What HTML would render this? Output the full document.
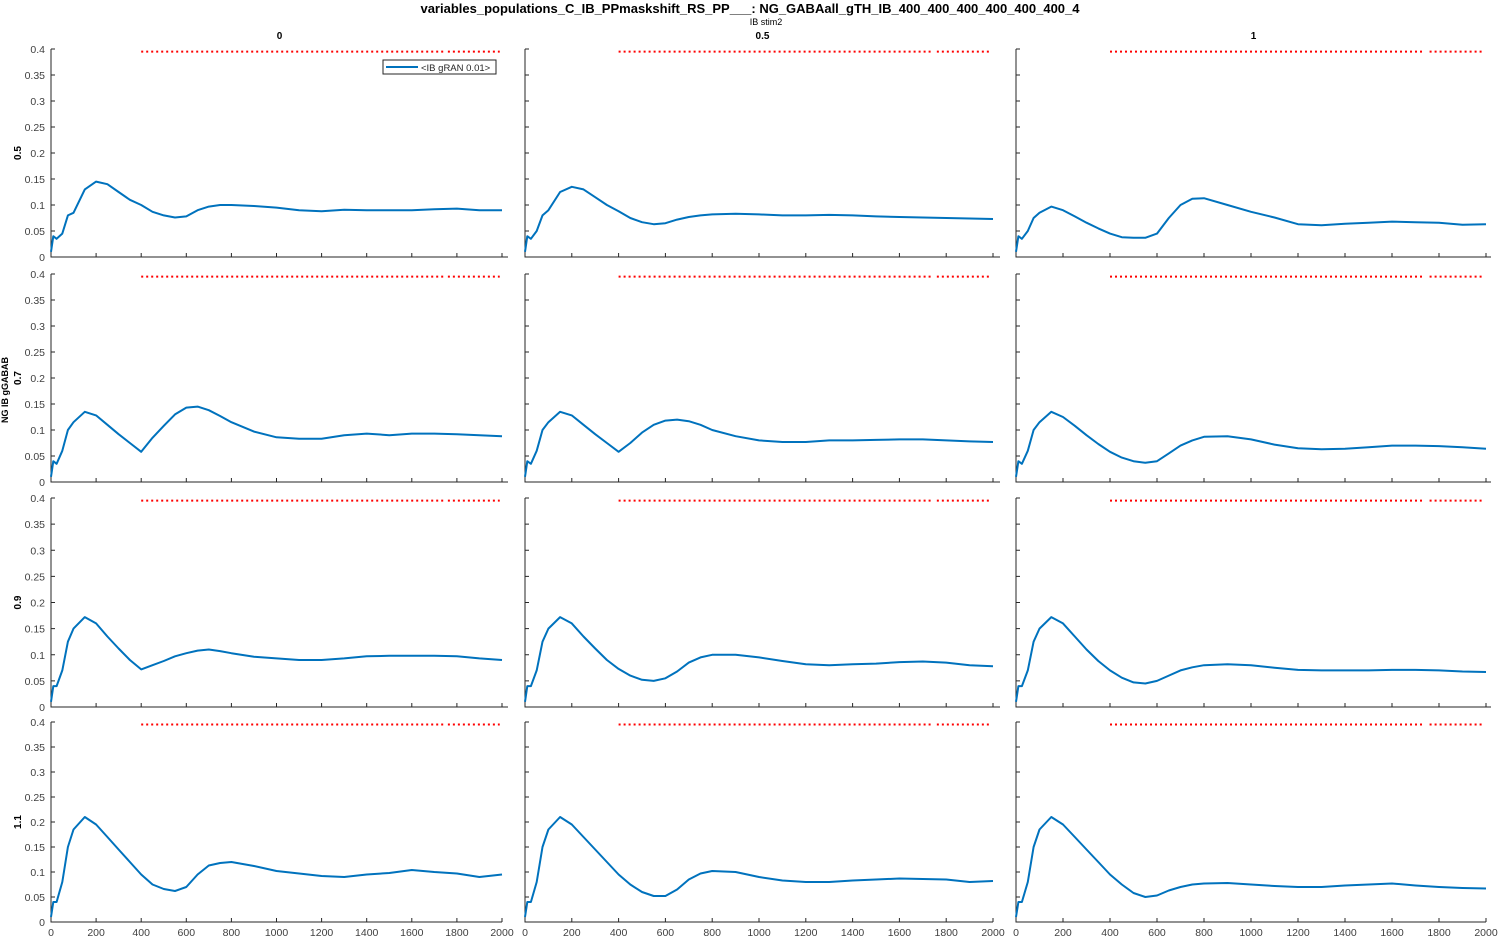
<!DOCTYPE html>
<html><head><meta charset="utf-8"><style>
body{margin:0;background:#fff;}
svg{display:block;font-family:"Liberation Sans",sans-serif;}
</style></head><body>
<svg id="chart" width="1500" height="938" viewBox="0 0 1500 938" xmlns="http://www.w3.org/2000/svg">
<text x="750" y="13" text-anchor="middle" font-size="13" font-weight="bold" fill="#000">variables_populations_C_IB_PPmaskshift_RS_PP___: NG_GABAall_gTH_IB_400_400_400_400_400_400_4</text>
<text x="766" y="25" text-anchor="middle" font-size="9" fill="#000">IB stim2</text>
<text transform="translate(8,390) rotate(-90)" text-anchor="middle" font-size="9" font-weight="bold" fill="#000">NG IB gGABAB</text>
<g id="plots"></g>
</svg>
<script>
const times = [0,10,25,50,75,100,150,200,250,300,350,400,450,500,550,600,650,700,750,800,900,1000,1100,1200,1300,1400,1500,1600,1700,1800,1900,2000];
const colLabels = ["0","0.5","1"];
const rowLabels = ["0.5","0.7","0.9","1.1"];
const xTicks = [0,200,400,600,800,1000,1200,1400,1600,1800,2000];
const yTicks = [0,0.05,0.1,0.15,0.2,0.25,0.3,0.35,0.4];
const yTickLabels = ["0","0.05","0.1","0.15","0.2","0.25","0.3","0.35","0.4"];
const redLineY = 0.395;
const redSegments = [[400,1740],[1760,1990]];
const s_05_0 = [0.01,0.04,0.035,0.045,0.08,0.085,0.13,0.145,0.14,0.125,0.11,0.1,0.087,0.08,0.076,0.078,0.09,0.097,0.1,0.1,0.098,0.095,0.09,0.088,0.091,0.09,0.09,0.09,0.092,0.093,0.09,0.09];
const s_05_05 = [0.01,0.04,0.035,0.05,0.08,0.09,0.125,0.135,0.13,0.115,0.1,0.088,0.075,0.067,0.063,0.065,0.072,0.077,0.08,0.082,0.083,0.082,0.08,0.08,0.081,0.08,0.078,0.077,0.076,0.075,0.074,0.073];
const s_05_1 = [0.01,0.04,0.035,0.05,0.075,0.085,0.097,0.09,0.078,0.066,0.055,0.045,0.038,0.037,0.037,0.045,0.075,0.1,0.112,0.113,0.1,0.087,0.076,0.063,0.061,0.064,0.066,0.068,0.067,0.066,0.062,0.063];
const s_07_0 = [0.01,0.04,0.035,0.06,0.1,0.115,0.135,0.128,0.11,0.092,0.075,0.058,0.085,0.108,0.13,0.143,0.145,0.138,0.127,0.115,0.097,0.086,0.083,0.083,0.09,0.093,0.09,0.093,0.093,0.092,0.09,0.088];
const s_07_05 = [0.01,0.04,0.035,0.06,0.1,0.115,0.135,0.128,0.11,0.092,0.075,0.058,0.075,0.095,0.11,0.118,0.12,0.117,0.11,0.1,0.088,0.08,0.077,0.077,0.08,0.08,0.081,0.082,0.082,0.08,0.078,0.077];
const s_07_1 = [0.01,0.04,0.035,0.06,0.1,0.115,0.135,0.125,0.108,0.09,0.073,0.058,0.047,0.04,0.037,0.04,0.055,0.07,0.08,0.087,0.088,0.082,0.072,0.065,0.063,0.064,0.067,0.07,0.07,0.069,0.067,0.064];
const s_09_0 = [0.01,0.04,0.04,0.07,0.125,0.15,0.172,0.16,0.135,0.112,0.09,0.072,0.08,0.088,0.097,0.103,0.108,0.11,0.107,0.103,0.096,0.093,0.09,0.09,0.093,0.097,0.098,0.098,0.098,0.097,0.093,0.09];
const s_09_05 = [0.01,0.04,0.04,0.07,0.125,0.15,0.172,0.16,0.135,0.112,0.09,0.073,0.06,0.052,0.05,0.055,0.068,0.085,0.095,0.1,0.1,0.095,0.088,0.082,0.08,0.082,0.083,0.086,0.087,0.085,0.08,0.078];
const s_09_1 = [0.01,0.04,0.04,0.07,0.125,0.15,0.172,0.16,0.135,0.11,0.088,0.07,0.056,0.047,0.045,0.05,0.06,0.07,0.076,0.08,0.082,0.08,0.075,0.071,0.07,0.07,0.07,0.071,0.071,0.07,0.068,0.067];
const s_11_0 = [0.01,0.04,0.04,0.08,0.15,0.185,0.21,0.195,0.17,0.145,0.12,0.095,0.075,0.066,0.062,0.07,0.095,0.113,0.118,0.12,0.112,0.102,0.097,0.092,0.09,0.095,0.098,0.104,0.1,0.097,0.09,0.095];
const s_11_05 = [0.01,0.04,0.04,0.08,0.15,0.185,0.21,0.195,0.17,0.145,0.12,0.095,0.075,0.06,0.052,0.052,0.065,0.085,0.097,0.102,0.1,0.09,0.083,0.08,0.08,0.083,0.085,0.087,0.086,0.085,0.08,0.082];
const s_11_1 = [0.01,0.04,0.04,0.08,0.15,0.185,0.21,0.195,0.17,0.145,0.12,0.095,0.075,0.058,0.05,0.053,0.063,0.07,0.075,0.077,0.078,0.075,0.072,0.07,0.07,0.073,0.075,0.077,0.073,0.07,0.068,0.067];
const series = [[s_05_0,s_05_05,s_05_1],[s_07_0,s_07_05,s_07_1],[s_09_0,s_09_05,s_09_1],[s_11_0,s_11_05,s_11_1]];

const NS = "http://www.w3.org/2000/svg";
const root = document.getElementById('plots');
const colX0 = [51,525,1016], colX2000 = [502,993,1486], colRight = [508,1000,1491];
const rowTop = [49,274,498,722], rowBot = [257,482,707,922];
function mk(tag, attrs, parent){const e=document.createElementNS(NS,tag);for(const k in attrs)e.setAttribute(k,attrs[k]);(parent||root).appendChild(e);return e;}

for(let r=0;r<4;r++){for(let c=0;c<3;c++){
  const g = mk('g',{});
  
  
  const sx = v => colX0[c] + v/2000*(colX2000[c]-colX0[c]);
  const sy = v => rowBot[r] - v/0.4*(rowBot[r]-rowTop[r]);
  const right = r===3 ? colX2000[c] : colRight[c];
  // axes
  const ax = mk('path',{d:`M${colX0[c]},${rowTop[r]}V${rowBot[r]}H${right}`,fill:'none',stroke:'#262626','stroke-width':1},g);
  
  
  yTicks.forEach((v,i)=>{
    mk('line',{x1:colX0[c],x2:colX0[c]+4,y1:sy(v),y2:sy(v),stroke:'#262626'},g);
    if(c===0){
      const t=mk('text',{x:colX0[c]-6,y:sy(v)+4,'text-anchor':'end','font-size':10.5,fill:'#404040'},g);
      t.textContent=yTickLabels[i];
      
      
    }
  });
  xTicks.forEach(v=>{
    mk('line',{x1:sx(v),x2:sx(v),y1:rowBot[r],y2:rowBot[r]-4,stroke:'#262626'},g);
    if(r===3){
      const t=mk('text',{x:sx(v),y:rowBot[r]+14,'text-anchor':'middle','font-size':10.5,fill:'#404040'},g);
      t.textContent=String(v);
      
      
    }
  });
  // red dotted line
  redSegments.forEach(s=>{
    const l=mk('line',{x1:sx(s[0]),x2:sx(s[1]),y1:sy(redLineY),y2:sy(redLineY),stroke:'#ff0000','stroke-width':2,'stroke-dasharray':'2,3'},g);
    
    
  });
  // series
  const d = series[r][c].map((v,i)=>(i?'L':'M')+sx(times[i]).toFixed(1)+','+sy(v).toFixed(1)).join('');
  const p=mk('path',{d:d,fill:'none',stroke:'#0072bd','stroke-width':2,'stroke-linejoin':'round'},g);
  
  
  if(r===0){
    const t=mk('text',{x:(colX0[c]+colRight[c])/2,y:39,'text-anchor':'middle','font-size':10,'font-weight':'bold',fill:'#000'},g);
    t.textContent=colLabels[c];
    
    
  }
  if(c===0){
    const cy=(rowTop[r]+rowBot[r])/2;
    const t=mk('text',{transform:`translate(21,${cy}) rotate(-90)`,'text-anchor':'middle','font-size':10,'font-weight':'bold',fill:'#000'},g);
    t.textContent=rowLabels[r];
    
    
  }
  if(r===0&&c===0){
    const lg=mk('g',{},g);
    
    
    mk('rect',{x:383,y:60,width:113,height:14,fill:'#fff',stroke:'#262626','stroke-width':1},lg);
    mk('line',{x1:386,x2:418,y1:67,y2:67,stroke:'#0072bd','stroke-width':2},lg);
    const lt=mk('text',{x:421,y:71,'font-size':9.5,fill:'#262626'},lg);
    lt.textContent='<IB gRAN 0.01>';
    
    
  }
}}
</script>
</body></html>
